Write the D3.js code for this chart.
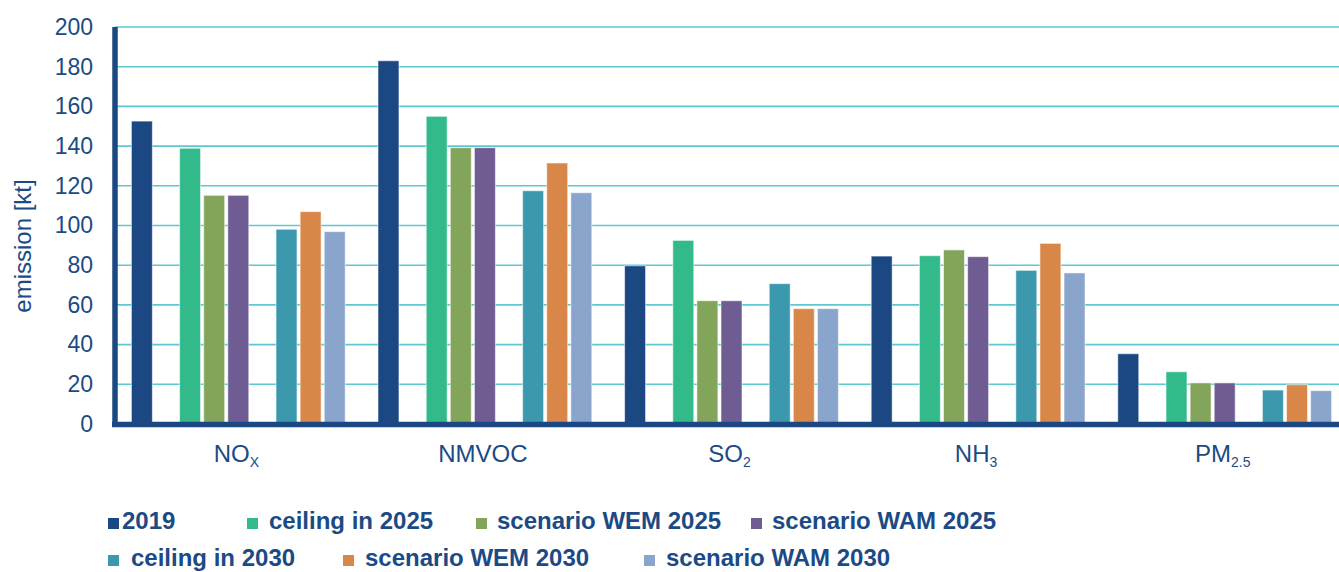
<!DOCTYPE html>
<html>
<head>
<meta charset="utf-8">
<script src="https://cdn.jsdelivr.net/npm/d3@7"></script>
<style>
  body{margin:0;background:#fff;}
  svg{display:block;font-family:"Liberation Sans",Arial,sans-serif;}
</style>
</head>
<body>
<svg id="chart" width="1339" height="572"></svg>
<script>
// pollutants (main text + subscript)
const categories = ["NOX","NMVOC","SO2","NH3","PM2.5"];
const catMain = ["NO","NMVOC","SO","NH","PM"];
const catSub  = ["X","","2","3","2.5"];

const seriesNames = ["2019","ceiling in 2025","scenario WEM 2025","scenario WAM 2025",
                     "ceiling in 2030","scenario WEM 2030","scenario WAM 2030"];

// values in kt, one array per series, order = categories
const v2019    = [152.6, 183.0, 79.7, 84.6, 35.4];
const ceil2025 = [138.9, 155.0, 92.5, 84.8, 26.3];
const wem2025  = [115.2, 139.2, 62.1, 87.7, 20.7];
const wam2025  = [115.2, 139.2, 62.1, 84.3, 20.7];
const ceil2030 = [98.1, 117.5, 70.7, 77.4, 17.1];
const wem2030  = [107.0, 131.5, 58.1, 91.0, 19.8];
const wam2030  = [96.9, 116.5, 58.1, 76.1, 16.8];

const yTicks = [0,20,40,60,80,100,120,140,160,180,200];

const series = [v2019, ceil2025, wem2025, wam2025, ceil2030, wem2030, wam2030];
const colors = ["#1b4882","#33ba8b","#82a55b","#6f5c93","#3c98ad","#d98748","#89a5cb"];
// slot within a group (gaps at 1 and 5)
const slotOf = [0,2,3,4,6,7,8];
const textColor = "#1b4a85";

const svg = d3.select("#chart");
const mLeft = 115, mBottom = 424, mTop = 27;

const x0 = d3.scaleBand().domain(categories).range([mLeft, mLeft + 246.6*5]).padding(0);
const x1 = d3.scaleBand().domain(d3.range(9)).range([0, x0.bandwidth()])
  .paddingInner(0.13).paddingOuter(0.68);
const y = d3.scaleLinear().domain([0,200]).range([mBottom, mTop]);

// gridlines
svg.append("g").selectAll("line").data(yTicks.filter(d => d > 0)).enter().append("line")
  .attr("x1", mLeft).attr("x2", 1339)
  .attr("y1", d => y(d)).attr("y2", d => y(d))
  .attr("stroke", "#5bc8d2").attr("stroke-width", 1.6);

// y tick labels
const yAxis = svg.append("g").attr("transform", "translate(93,0)")
  .call(d3.axisLeft(y).tickValues(yTicks).tickSize(0).tickPadding(0));
yAxis.select(".domain").remove();
yAxis.selectAll("text").attr("fill", textColor).style("font-size","23px")
  .style("font-family","'Liberation Sans',Arial,sans-serif");

// y title
svg.append("text")
  .attr("transform", "translate(31,246) rotate(-90)")
  .attr("text-anchor","middle")
  .attr("fill", textColor).style("font-size","24px")
  .text("emission [kt]");

// bars
const rows = [];
series.forEach((vals, si) => vals.forEach((v, ci) => rows.push({si, ci, v})));
svg.append("g").selectAll("rect").data(rows).enter().append("rect")
  .attr("x", d => x0(categories[d.ci]) + x1(slotOf[d.si]))
  .attr("width", x1.bandwidth())
  .attr("y", d => y(d.v))
  .attr("height", d => mBottom - y(d.v))
  .attr("fill", d => colors[d.si])
  .attr("stroke", "#fff").attr("stroke-opacity", 0.55).attr("stroke-width", 1);

// axes lines
svg.append("line").attr("x1", mLeft).attr("x2", mLeft).attr("y1", mTop).attr("y2", mBottom + 3)
  .attr("stroke", "#1b4882").attr("stroke-width", 5.5);
svg.append("line").attr("x1", mLeft - 3).attr("x2", 1339).attr("y1", mBottom + 0.5).attr("y2", mBottom + 0.5)
  .attr("stroke", "#1b4882").attr("stroke-width", 5.5);

// category labels
const cl = svg.append("g").selectAll("text").data(categories).enter().append("text")
  .attr("x", d => x0(d) + x0.bandwidth()/2 - 2)
  .attr("y", 462)
  .attr("text-anchor","middle")
  .attr("fill", textColor).style("font-size","24px");
cl.append("tspan").text((d,i) => catMain[i]);
cl.append("tspan").attr("dy", 5).style("font-size","14px").text((d,i) => catSub[i]);

// legend
const legendPos = [[108,518],[247,518],[476,518],[751,518],[108,555],[343,555],[644,555]];
const legendTextX = [122,269,497,772,131,365,666];
const lg = svg.append("g").selectAll("g").data(seriesNames).enter().append("g");
lg.append("rect")
  .attr("x", (d,i) => legendPos[i][0]).attr("y", (d,i) => legendPos[i][1])
  .attr("width", 11).attr("height", 11)
  .attr("fill", (d,i) => colors[i]);
lg.append("text")
  .attr("x", (d,i) => legendTextX[i]).attr("y", (d,i) => legendPos[i][1] + 11)
  .attr("fill", textColor).style("font-size","24px").style("font-weight","bold")
  .text(d => d);
</script>
</body>
</html>
